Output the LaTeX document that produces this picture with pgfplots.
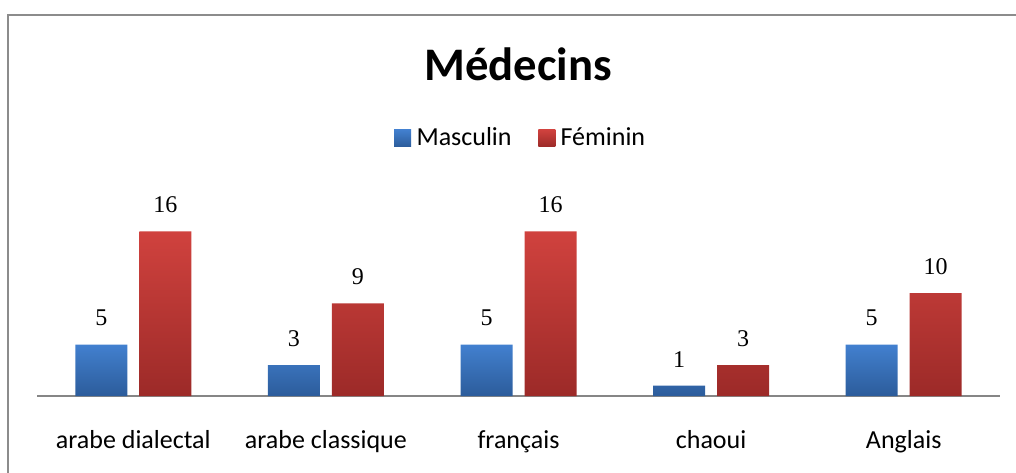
\documentclass[border=0pt]{standalone}
\usepackage{fontspec}
\setmainfont{Carlito}
\newfontfamily\numfont{Liberation Serif}
\usepackage{pgfplots}
\pgfplotsset{compat=1.18}
\definecolor{framegray}{RGB}{140,140,140}
\definecolor{axisgray}{RGB}{134,134,134}
\definecolor{bluetop}{RGB}{66,128,207}
\definecolor{bluebot}{RGB}{44,92,155}
\definecolor{redtop}{RGB}{208,66,62}
\definecolor{redbot}{RGB}{156,42,40}
\begin{document}
\begin{tikzpicture}[x=0.75pt,y=0.75pt]
\useasboundingbox (0,0) rectangle (1016,472);
\draw[framegray, line width=1.5pt] (8,-2) -- (8,457) -- (1018,457);
\node[font=\bfseries\fontsize{35}{40}\selectfont, anchor=base] at (518,391) {Médecins};
\begin{axis}[
  at={(27.75pt,57pt)}, anchor=south west,
  scale only axis, width=722.25pt, height=162pt,
  xmin=-0.5, xmax=4.5, ymin=0, ymax=21,
  ybar=9pt, bar width=39pt,
  xtick={0,1,2,3,4},
  xticklabels={arabe dialectal, arabe classique, français, chaoui, Anglais},
  axis x line*=bottom, axis y line=none,
  x axis line style={draw=axisgray, line width=1.2pt, -},
  major tick length=0pt,
  xticklabel style={font=\fontsize{19.5}{22}\selectfont, anchor=base, yshift=-39pt},
  nodes near coords,
  /pgf/number format/assume math mode=true,
  nodes near coords style={font=\numfont\fontsize{18}{20}\selectfont, anchor=base, yshift=14pt},
  legend columns=2,
  legend style={at={(0.5026,1.195)}, anchor=center, draw=none, fill=none,
    font=\fontsize{19.5}{22}\selectfont,
    /tikz/every odd column/.append style={column sep=2pt},
    /tikz/every even column/.append style={column sep=18pt}},
  legend image code/.code={\path[#1, draw=none] (0pt,-6.6pt) rectangle (12.75pt,6.2pt);},
  clip=false,
]
\addplot[draw=none, top color=bluetop, bottom color=bluebot] coordinates {(0,5) (1,3) (2,5) (3,1) (4,5)};
\addplot[draw=none, top color=redtop, bottom color=redbot] coordinates {(0,16) (1,9) (2,16) (3,3) (4,10)};
\legend{Masculin, Féminin}
\end{axis}
\end{tikzpicture}
\end{document}
